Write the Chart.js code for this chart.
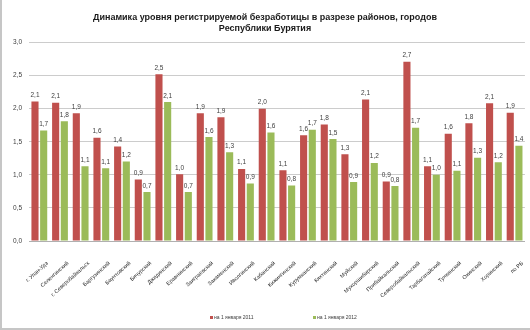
<!DOCTYPE html>
<html lang="ru">
<head>
<meta charset="UTF-8">
<title>Безработица</title>
<script src="https://cdn.jsdelivr.net/npm/chart.js"></script>
<style>
    body { margin: 0; background: #ffffff; }
    #wrap { width: 530px; height: 330px; position: relative; }
</style>
</head>
<body>
<div id="wrap"><canvas id="c" width="530" height="330"></canvas></div>
<script>
const districts = ["г. Улан-Удэ", "Селенгинский", "г. Северобайкальск", "Баргузинский", "Баунтовский",
    "Бичурский", "Джидинский", "Еравнинский", "Заиграевский", "Закаменский", "Иволгинский",
    "Кабанский", "Кижингинский", "Курумканский", "Кяхтинский", "Муйский", "Мухоршибирский",
    "Прибайкальский", "Северобайкальский", "Тарбагатайский", "Тункинский", "Окинский",
    "Хоринский", "по РБ"];
const rate2011 = [2.11, 2.09, 1.93, 1.56, 1.43, 0.93, 2.52, 1.01, 1.93, 1.87, 1.09, 2.00,
    1.07, 1.60, 1.76, 1.31, 2.14, 0.90, 2.71, 1.13, 1.62, 1.78, 2.08, 1.94];
const rate2012 = [1.67, 1.81, 1.13, 1.10, 1.20, 0.74, 2.10, 0.74, 1.57, 1.34, 0.87, 1.64,
    0.84, 1.68, 1.54, 0.89, 1.18, 0.83, 1.71, 1.00, 1.06, 1.26, 1.19, 1.44];
const seriesNames = ["на 1 января 2011", "на 1 января 2012"];
const yTicks = [0, 0.5, 1.0, 1.5, 2.0, 2.5, 3.0];
const titleLines = ["Динамика уровня регистрируемой безработицы в разрезе районов, городов",
    "Республики Бурятия"];

const FONT = "'Liberation Sans', Arial, sans-serif";
const fmt = v => v.toFixed(1).replace(".", ",");

// белый фон + рамка + подписи значений + легенда
const decor = {
    id: "decor",
    beforeDraw(chart) {
        let ctx = chart.ctx;
        ctx.save();
        ctx.fillStyle = "#ffffff";
        ctx.fillRect(0, 0, chart.width, chart.height);
        ctx.restore();
    },
    afterDatasetsDraw(chart) {
        let ctx = chart.ctx;
        ctx.save();
        ctx.font = "6.5px " + FONT;
        ctx.fillStyle = "#404040";
        ctx.textAlign = "center";
        ctx.textBaseline = "bottom";
        chart.data.datasets.forEach((ds, i) => {
            chart.getDatasetMeta(i).data.forEach((bar, j) => {
                ctx.fillText(fmt(ds.data[j]), bar.x, bar.y - 3);
            });
        });
        // легенда
        ctx.font = "5px " + FONT;
        ctx.textAlign = "left";
        ctx.textBaseline = "middle";
        let lx = [210, 313];
        chart.data.datasets.forEach((ds, i) => {
            ctx.fillStyle = ds.backgroundColor;
            ctx.fillRect(lx[i], 316, 3, 3);
            ctx.fillStyle = "#404040";
            ctx.fillText(ds.label, lx[i] + 4, 317.5);
        });
        // рамка
        ctx.strokeStyle = "#c6c6c6";
        ctx.lineWidth = 2;
        ctx.beginPath();
        ctx.moveTo(1, 0);
        ctx.lineTo(1, 329);
        ctx.lineTo(530, 329);
        ctx.stroke();
        ctx.restore();
    }
};

new Chart(document.getElementById("c"), {
    type: "bar",
    data: {
        labels: districts,
        datasets: [
            { label: seriesNames[0], data: rate2011, backgroundColor: "#c0504d" },
            { label: seriesNames[1], data: rate2012, backgroundColor: "#9bbb59" }
        ]
    },
    options: {
        responsive: false,
        animation: false,
        events: [],
        layout: { padding: { left: 0, right: 0, top: 0, bottom: 0 } },
        datasets: { bar: { categoryPercentage: 0.84, barPercentage: 0.82 } },
        plugins: {
            legend: { display: false },
            tooltip: { enabled: false },
            title: {
                display: true,
                text: titleLines,
                color: "#1a1a1a",
                font: { family: FONT, size: 9, weight: "bold", lineHeight: 1.25 },
                padding: { top: 12, bottom: 8 }
            }
        },
        scales: {
            x: {
                grid: { display: false },
                border: { color: "#b0b0b0" },
                ticks: {
                    minRotation: 42, maxRotation: 42, autoSkip: false,
                    color: "#262626", padding: 11, labelOffset: 8,
                    font: { family: FONT, size: 5.5 }
                },
                afterFit(scale) { scale.height = 89; }
            },
            y: {
                min: 0, max: 3,
                afterBuildTicks(scale) { scale.ticks = yTicks.map(v => ({ value: v })); },
                grid: { color: "#cccccc", lineWidth: 1, drawTicks: false },
                border: { display: false },
                ticks: {
                    color: "#404040", padding: 7,
                    font: { family: FONT, size: 6.5 },
                    callback: v => fmt(v)
                },
                afterFit(scale) { scale.width = 29; }
            }
        }
    },
    plugins: [decor]
});
</script>
</body>
</html>
